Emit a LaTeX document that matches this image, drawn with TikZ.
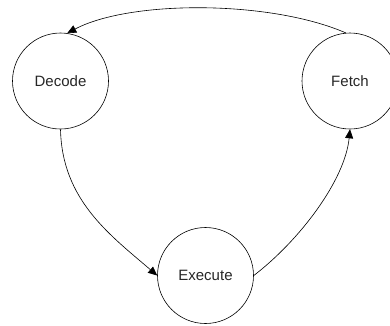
\documentclass[tikz,border=0pt]{standalone}
\usepackage{fontspec}
\setmainfont{Liberation Sans}
\usetikzlibrary{arrows.meta}
\begin{document}
\begin{tikzpicture}[x=1pt,y=-1pt,
  stage/.style={circle,draw,line width=0.6pt,minimum size=96pt,inner sep=0pt,
    font=\fontsize{15}{18}\selectfont,text=black!85},
  flow/.style={line width=0.6pt,-{Triangle[length=9pt,width=8pt]}}]
\useasboundingbox (0,0) rectangle (390,325);
\node[stage] (decode) at (60.5,81) {Decode};
\node[stage] (fetch) at (350,81) {Fetch};
\node[stage] (execute) at (205.5,275.5) {Execute};
\draw[flow] (fetch.95) .. controls (270,0) and (130,0) .. (decode.82);
\draw[flow] (decode.south) .. controls (62,200) and (110,235) .. (execute.west);
\draw[flow] (execute.east) .. controls (300,240) and (345,180) .. (fetch.south);
\end{tikzpicture}
\end{document}
